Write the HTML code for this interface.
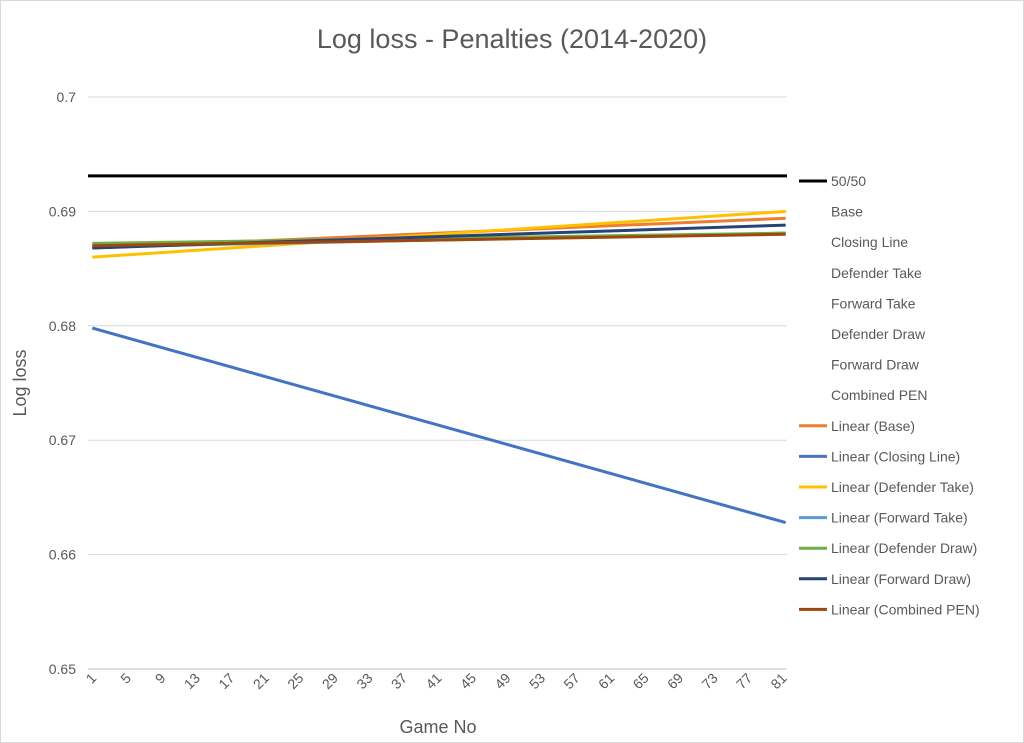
<!DOCTYPE html>
<html><head><meta charset="utf-8"><style>
body{margin:0;background:#fff;font-family:"Liberation Sans",sans-serif}
#wrap{position:relative;width:1024px;height:743px;border:1px solid #d9d9d9;box-sizing:border-box}
</style></head><body>
<div id="wrap">
<svg id="chart" width="1024" height="743" style="position:absolute;left:-1px;top:-1px">
<text x="512" y="48" text-anchor="middle" font-size="27" fill="#595959">Log loss - Penalties (2014-2020)</text>
<text transform="translate(26,383) rotate(-90)" text-anchor="middle" font-size="18" fill="#595959">Log loss</text>
<text x="438" y="733" text-anchor="middle" font-size="18" fill="#595959">Game No</text>
<g id="grid"></g><g id="series"></g><g id="legend"></g>
</svg>
</div>
<script>
const yTicks=[0.65,0.66,0.67,0.68,0.69,0.7];
const xCount=81;
const seriesNames=["Linear (Base)","Linear (Closing Line)","Linear (Defender Take)","Linear (Forward Take)","Linear (Defender Draw)","Linear (Forward Draw)","Linear (Combined PEN)"];
const seriesColors=["#ed7d31","#4472c4","#ffc000","#5b9bd5","#70ad47","#264478","#9e480e"];
const startVals=[0.6868,0.6798,0.6860,0.6869,0.6872,0.6868,0.6870];
const endVals=[0.6894,0.6628,0.6900,0.6881,0.6881,0.6888,0.6880];
const baseline=0.6931;
const legendLabels=["50/50","Base","Closing Line","Defender Take","Forward Take","Defender Draw","Forward Draw","Combined PEN"].concat(seriesNames);
const NS="http://www.w3.org/2000/svg";
const L=88,R=787,T=97,B=669;
function y(v){return B-(v-0.65)/0.05*(B-T);}
function x(i){return L+(i-0.5)*(R-L)/xCount;}
function mk(tag,attrs,parent){const e=document.createElementNS(NS,tag);for(const k in attrs)e.setAttribute(k,attrs[k]);parent.appendChild(e);return e;}
const grid=document.getElementById('grid');
yTicks.forEach(v=>{
 const l=mk('line',{x1:L,x2:R,y1:y(v),y2:y(v),stroke:v===0.65?'#bfbfbf':'#d9d9d9','stroke-width':1},grid);
 
 
 const t=mk('text',{x:76,y:y(v)+5,'text-anchor':'end','font-size':14,fill:'#595959'},grid);
 t.textContent=String(v);
 
 
});
for(let i=1;i<=xCount;i+=4){
 const t=mk('text',{transform:`translate(${x(i)+5},${B+10}) rotate(-45)`,'text-anchor':'end','font-size':14,fill:'#595959'},grid);
 t.textContent=String(i);
 
 
}
const sg=document.getElementById('series');
const bl=mk('line',{x1:L,x2:R,y1:y(baseline),y2:y(baseline),stroke:'#000','stroke-width':3},sg);


seriesNames.forEach((n,k)=>{
 const l=mk('line',{x1:x(1),x2:x(xCount)+3,y1:y(startVals[k]),y2:y(endVals[k]),stroke:seriesColors[k],'stroke-width':3},sg);
 
 
});
const lg=document.getElementById('legend');
legendLabels.forEach((n,k)=>{
 const yy=181+k*30.6;
 let c=null;
 if(k===0)c='#000';else if(k>=8)c=seriesColors[k-8];
 if(c){const l=mk('line',{x1:799,x2:827,y1:yy,y2:yy,stroke:c,'stroke-width':3},lg);
  
  }
 const t=mk('text',{x:831,y:yy+5,'font-size':14,fill:'#595959'},lg);
 t.textContent=n;
 
 
});
</script>
</body></html>
